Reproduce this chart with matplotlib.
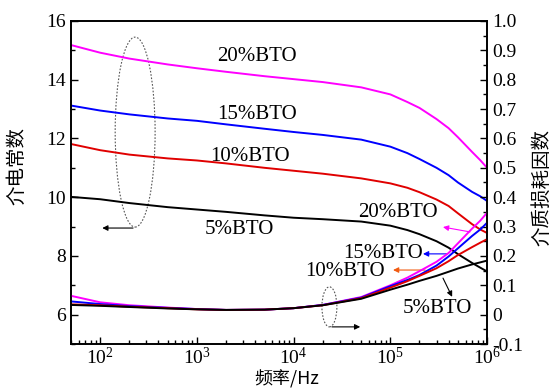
import matplotlib
matplotlib.use("Agg")
import matplotlib.pyplot as plt
from matplotlib.patches import Ellipse
from matplotlib.ticker import MultipleLocator, FuncFormatter, LogLocator

plt.rcParams['font.family'] = ['Liberation Serif', 'Noto Sans CJK SC']
plt.rcParams['mathtext.fontset'] = 'stix'

# 频率 (Hz)
freq = [50, 100, 200, 500, 1e3, 2e3, 5e3, 1e4, 2e4, 5e4, 1e5, 1.5e5, 2e5, 3e5, 4e5, 5e5, 7e5, 8.5e5, 1e6]

# 介电常数 (左轴)
eps_20 = [15.18, 14.92, 14.72, 14.52, 14.39, 14.27, 14.12, 14.02, 13.92, 13.74, 13.50, 13.24, 13.04, 12.66, 12.35, 12.04, 11.54, 11.26, 11.00]
eps_15 = [13.12, 12.95, 12.82, 12.68, 12.60, 12.48, 12.33, 12.22, 12.12, 11.96, 11.72, 11.50, 11.30, 11.00, 10.75, 10.50, 10.18, 10.03, 9.87]
eps_10 = [11.81, 11.60, 11.45, 11.32, 11.25, 11.15, 11.00, 10.90, 10.80, 10.64, 10.47, 10.32, 10.17, 9.92, 9.70, 9.45, 9.08, 8.90, 8.78]
eps_5 = [10.01, 9.93, 9.80, 9.66, 9.58, 9.50, 9.38, 9.30, 9.25, 9.17, 9.03, 8.88, 8.74, 8.50, 8.28, 8.06, 7.76, 7.60, 7.47]

# 介质损耗因数 (右轴)
tan_20 = [0.064, 0.042, 0.032, 0.024, 0.019, 0.016, 0.017, 0.022, 0.033, 0.060, 0.100, 0.126, 0.148, 0.180, 0.210, 0.243, 0.293, 0.320, 0.347]
tan_15 = [0.045, 0.036, 0.029, 0.023, 0.019, 0.016, 0.017, 0.022, 0.033, 0.058, 0.097, 0.118, 0.135, 0.167, 0.198, 0.226, 0.268, 0.290, 0.313]
tan_10 = [0.035, 0.032, 0.027, 0.022, 0.018, 0.016, 0.017, 0.022, 0.032, 0.056, 0.092, 0.114, 0.132, 0.158, 0.182, 0.203, 0.230, 0.245, 0.257]
tan_5 = [0.033, 0.030, 0.026, 0.021, 0.018, 0.016, 0.017, 0.022, 0.032, 0.054, 0.085, 0.102, 0.115, 0.132, 0.146, 0.157, 0.171, 0.178, 0.184]

labels = ["20%BTO", "15%BTO", "10%BTO", "5%BTO"]
colors = ["#ff00ff", "#0000ff", "#e00000", "#000000"]

fig = plt.figure(figsize=(5.51, 3.88), dpi=100)
ax = fig.add_axes([0.129, 0.1134, 0.755, 0.8325])
ax2 = ax.twinx()

for e, c in zip([eps_20, eps_15, eps_10, eps_5], colors):
    ax.plot(freq, e, color=c, lw=1.4)
for t, c in zip([tan_20, tan_15, tan_10, tan_5], colors):
    ax2.plot(freq, t, color=c, lw=1.4)

ax.set_xscale("log")
ax.set_xlim(50, 1e6)
ax.set_ylim(5, 16)
ax.set_yticks([6, 8, 10, 12, 14, 16])
ax.yaxis.set_minor_locator(MultipleLocator(1))
ax.xaxis.set_major_locator(LogLocator(base=10, numticks=10))
ax.xaxis.set_minor_locator(LogLocator(base=10, subs=range(2, 10), numticks=20))

ax2.set_ylim(-0.1, 1.0)
ax2.yaxis.set_major_locator(MultipleLocator(0.1))
ax2.yaxis.set_minor_locator(MultipleLocator(0.05))
ax2.yaxis.set_major_formatter(FuncFormatter(lambda v, p: "0" if abs(v) < 1e-9 else f"{v:.1f}"))

for a in (ax, ax2):
    a.tick_params(which="both", direction="in", labelsize=14, width=1)
    a.tick_params(which="major", length=5)
    a.tick_params(which="minor", length=3)
    for s in a.spines.values():
        s.set_linewidth(1.2)
ax.tick_params(axis="x", which="both", top=False, pad=2)
ax.tick_params(axis="y", pad=4)
ax2.tick_params(axis="y", pad=4)

ax.set_xlabel("频率/Hz", fontsize=13, family=['Noto Sans CJK SC', 'Liberation Serif'])
ax.xaxis.set_label_coords(0.519, -0.08)
ax.set_ylabel("介电常数", fontsize=14, family=['Noto Sans CJK SC'])
ax.yaxis.set_label_coords(-0.106, 0.551)
ax2.set_ylabel("介质损耗因数", fontsize=14, family=['Noto Sans CJK SC'])
ax2.yaxis.set_label_coords(1.106, 0.486)

# 标注文字
txt = dict(transform=ax.transAxes, fontsize=15, ha="center", va="center")
ax.text(0.447, 0.889, labels[0], **txt)
ax.text(0.447, 0.709, labels[1], **txt)
ax.text(0.430, 0.579, labels[2], **txt)
ax.text(0.404, 0.353, labels[3], **txt)
ax.text(0.786, 0.406, labels[0], **txt)
ax.text(0.750, 0.280, labels[1], **txt)
ax.text(0.659, 0.226, labels[2], **txt)
ax.text(0.880, 0.111, labels[3], **txt)

def arrow(tail, head, color):
    ax.annotate("", xy=head, xytext=tail, xycoords="axes fraction", textcoords="axes fraction",
                arrowprops=dict(arrowstyle="-|>", color=color, lw=0.8, mutation_scale=8,
                                shrinkA=0, shrinkB=0))

arrow((0.959, 0.347), (0.894, 0.362), "#ff00ff")
arrow((0.904, 0.279), (0.846, 0.279), "#0000ff")
arrow((0.851, 0.229), (0.774, 0.229), "#f05a10")
arrow((0.894, 0.204), (0.916, 0.146), "black")
arrow((0.149, 0.359), (0.075, 0.359), "black")
arrow((0.627, 0.053), (0.695, 0.053), "black")

ax.add_patch(Ellipse((0.154, 0.656), 0.096, 0.588, transform=ax.transAxes, fill=False,
                     ls=(0, (1.5, 1.5)), lw=0.8, ec="#555555"))
ax.add_patch(Ellipse((0.621, 0.115), 0.036, 0.124, transform=ax.transAxes, fill=False,
                     ls=(0, (1.5, 1.5)), lw=0.8, ec="#555555"))

fig.savefig("out.png", dpi=100)
